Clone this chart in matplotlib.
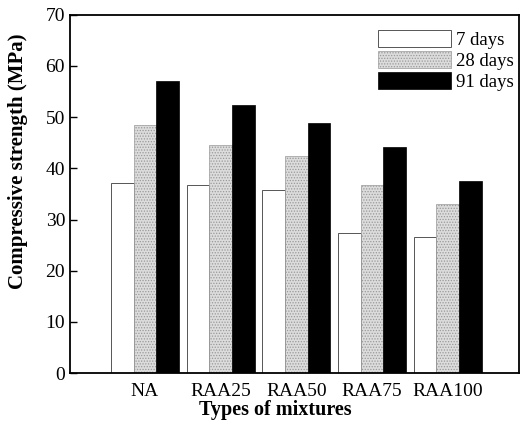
import numpy as np
import matplotlib
matplotlib.use("Agg")
import matplotlib.pyplot as plt

mixtures = ["NA", "RAA25", "RAA50", "RAA75", "RAA100"]
ages = ["7 days", "28 days", "91 days"]
strength_7d = [37.1, 36.7, 35.8, 27.3, 26.5]
strength_28d = [48.5, 44.5, 42.4, 36.7, 33.1]
strength_91d = [57.0, 52.4, 48.9, 44.2, 37.6]

plt.rcParams["font.family"] = ["Liberation Serif", "DejaVu Serif"]
plt.rcParams["hatch.linewidth"] = 0.6
plt.rcParams["hatch.color"] = "#808080"

fig = plt.figure(figsize=(5.22, 4.23), dpi=100)
ax = fig.add_axes([0.134, 0.118, 0.860, 0.847])

x = np.arange(len(mixtures))
w = 0.30
ax.bar(x - w, strength_7d, w, facecolor="white", edgecolor="#555555",
       linewidth=0.7, label=ages[0])
ax.bar(x, strength_28d, w, facecolor="#dcdcdc", edgecolor="#999999",
       hatch="......", linewidth=0.5, label=ages[1])
ax.bar(x + w, strength_91d, w, facecolor="black", edgecolor="black",
       linewidth=0.5, label=ages[2])

ax.set_xlim(-0.99, 4.94)
ax.set_ylim(0, 70)
ax.set_yticks(np.arange(0, 71, 10))
ax.set_xticks(x)
ax.set_xticklabels(mixtures)
ax.tick_params(axis="y", direction="in", length=5, labelsize=14, width=1)
ax.tick_params(axis="x", length=0, labelsize=14, pad=7)
for s in ax.spines.values():
    s.set_linewidth(1.3)

ax.set_xlabel("Types of mixtures", fontsize=14.5, fontweight="bold")
ax.xaxis.set_label_coords(0.457, -0.075)
ax.set_ylabel("Compressive strength (MPa)", fontsize=15, fontweight="bold")
ax.yaxis.set_label_coords(-0.094, 0.59)

ax.legend(loc="upper right", frameon=False, fontsize=13.5,
          handlelength=3.9, handleheight=1.0, labelspacing=0.12,
          handletextpad=0.3, borderaxespad=0.0, bbox_to_anchor=(1.006, 0.978))

fig.savefig("out.png", dpi=100)
